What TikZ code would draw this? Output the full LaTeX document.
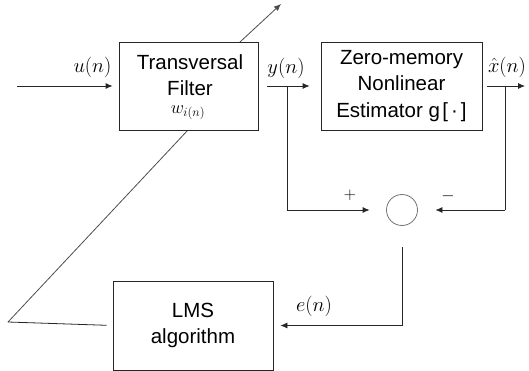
\RequirePackage{fix-cm}
\documentclass[tikz,border=0pt]{standalone}
\usepackage{fontspec}
\setmainfont{Liberation Sans}
\usetikzlibrary{arrows.meta}
\begin{document}
\begin{tikzpicture}[x=1pt,y=-1pt,
  blockbox/.style={draw=black!85,line width=0.8pt,fill=white,align=center,
    font=\fontsize{20.5}{26.5}\selectfont,inner sep=0pt},
  wire/.style={draw=black!85,line width=0.8pt},
  arr/.style={wire,-{Latex[length=7pt,width=6pt]}},
  lab/.style={font=\fontsize{20.5}{22}\selectfont,inner sep=0pt}]
\useasboundingbox (0,0) rectangle (529,371);
% diagonal adaptation line (behind the filter box)
\coordinate (dl) at (8,322);
\coordinate (db) at (188,130);
\coordinate (dt) at (240,42);
\coordinate (dtip) at (281,4);
\draw[wire,draw=black!70,-{Latex[length=7pt,width=6pt]}] (dl) -- (db) -- (dt) -- (dtip);
% blocks
\node[blockbox,minimum width=139pt,minimum height=88pt] (TF) at (188.5,86) {};
\node[align=center,font=\fontsize{20.5}{26.5}\selectfont,inner sep=0pt] (TFt) at (190,75) {Transversal\\Filter};
\node[lab,font=\fontsize{18}{20}\selectfont] (w) at (188,113) {$w_{i(n)}$};
\node[blockbox,minimum width=161pt,minimum height=88pt] (ZM) at (401.5,86) {Zero-memory\\Nonlinear\\Estimator g\hspace{2.5pt}[\hspace{3pt}·\hspace{3pt}]};
\node[blockbox,minimum width=160pt,minimum height=89pt] (LMS) at (193,325.5) {LMS\\algorithm};
\node[draw=black!55,line width=0.8pt,circle,minimum size=31pt,inner sep=0pt] (S) at (402,210) {};
% coordinates
\coordinate (in) at (17,86);
\coordinate (out) at (525,86);
\coordinate (by) at (287,86);
\coordinate (byd) at (287,210);
\coordinate (bx) at (505,86);
\coordinate (bxd) at (505,210);
% connectors
\draw[arr,shorten >=6pt] (in) -- (TF.west);
\draw[arr,shorten <=9pt,shorten >=11pt] (TF.east) -- (ZM.west);
\draw[arr,shorten <=5pt] (ZM.east) -- (out);
\draw[wire] (by) -- (byd);
\draw[arr,shorten >=16.5pt] (byd) -- (S.west);
\draw[wire] (bx) -- (bxd);
\draw[arr,shorten >=17.5pt] (bxd) -- (S.east);
\draw[arr,shorten <=21.5pt,shorten >=7pt] (S.south) |- (LMS.east);
\draw[wire,shorten <=6pt] (LMS.west) -- (dl);
% labels
\node[lab] (lu) at (92.5,67.5) {$u(n)$};
\node[lab] (ly) at (286,68) {$y(n)$};
\node[lab] (lx) at (507,67) {$\hat{x}(n)$};
\node[lab] (le) at (314,306.5) {$e(n)$};
\node[lab,font=\fontsize{17}{18}\selectfont] (lp) at (350,195) {$+$};
\node[lab,font=\fontsize{17}{18}\selectfont] (lm) at (448,196) {$-$};
\end{tikzpicture}
\end{document}
